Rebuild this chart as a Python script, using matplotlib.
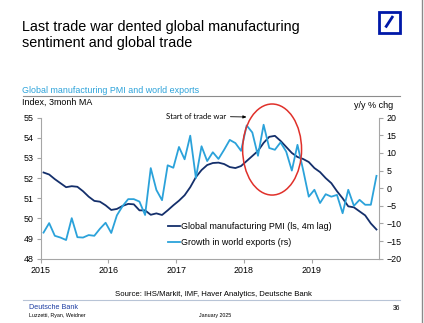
import matplotlib
matplotlib.use("Agg")
import matplotlib.pyplot as plt
from matplotlib.patches import Ellipse, Rectangle
from matplotlib.lines import Line2D
import numpy as np

# ---------------- data ----------------
start_year = 2015
n_months = 60  # Jan 2015 .. Dec 2019

pmi = [52.28, 52.18, 51.95, 51.75, 51.55, 51.60, 51.57, 51.35, 51.08, 50.87,
       50.83, 50.65, 50.42, 50.47, 50.62, 50.72, 50.70, 50.40, 50.40, 50.18,
       50.25, 50.17, 50.40, 50.65, 50.88, 51.15, 51.55, 52.05, 52.40, 52.65,
       52.75, 52.77, 52.70, 52.55, 52.50, 52.60, 52.85, 53.10, 53.35, 53.75,
       54.05, 54.10, 53.85, 53.55, 53.25, 53.05, 52.95, 52.80, 52.50, 52.30,
       52.00, 51.75, 51.35, 51.00, 50.60, 50.55, 50.35, 50.15, 49.75, 49.45]

exports = [-12.6, -9.9, -13.5, -14.0, -14.7, -8.5, -13.9, -14.0, -13.3, -13.5,
           -11.5, -9.8, -12.7, -7.7, -5.1, -3.1, -3.1, -3.8, -7.6, 5.7,
           -0.5, -3.4, 6.5, 5.8, 11.7, 8.2, 14.9, 2.9, 11.9, 7.7,
           10.2, 8.3, 10.9, 13.7, 12.8, 10.6, 17.8, 15.8, 9.2, 18.0,
           11.4, 10.9, 13.0, 10.4, 5.0, 12.3, 5.2, -2.4, -0.45, -4.2,
           -1.7, -2.4, -1.9, -7.1, -0.45, -5.0, -3.3, -4.7, -4.7, 3.5]

year_ticks = [2015, 2016, 2017, 2018, 2019]
left_ticks = [48, 49, 50, 51, 52, 53, 54, 55]
right_ticks = [-20, -15, -10, -5, 0, 5, 10, 15, 20]

label_pmi = "Global manufacturing PMI (ls, 4m lag)"
label_exp = "Growth in world exports (rs)"

# ---------------- style ----------------
FONT = "Liberation Sans"
plt.rcParams["font.family"] = [FONT, "DejaVu Sans"]
DARK = "#142f6b"
LIGHT = "#2ba2da"
GRID = "#a6a6a6"

W, H = 424, 323
fig = plt.figure(figsize=(W / 100, H / 100), dpi=100)
fig.patch.set_facecolor("white")

def fx(px):
    return px / W

def fy(py):
    return 1 - py / H

x = start_year + (np.arange(n_months) + 0.5) / 12.0

ax = fig.add_axes([fx(40.7), fy(258.7), fx(379.3) - fx(40.7), fy(117.7) - fy(258.7)])
ax2 = ax.twinx()

ax.plot(x, pmi, color=DARK, lw=1.3, label=label_pmi, solid_joinstyle="round")
ax2.plot(x, exports, color=LIGHT, lw=1.3, label=label_exp, solid_joinstyle="round")

ax.set_xlim(2015, 2020)
ax.set_ylim(48, 55)
ax2.set_ylim(-20, 20)
ax.set_xticks(year_ticks)
ax.set_xticklabels([str(y) for y in year_ticks])
ax.set_yticks(left_ticks)
ax2.set_yticks(right_ticks)

for a in (ax, ax2):
    for s in a.spines.values():
        s.set_visible(False)
    a.tick_params(colors=GRID, labelcolor="black", labelsize=6.4, width=0.8, length=3)
    a.set_facecolor("none")

ax.spines["left"].set_visible(True)
ax.spines["bottom"].set_visible(True)
ax2.spines["right"].set_visible(True)
for s in (ax.spines["left"], ax.spines["bottom"], ax2.spines["right"]):
    s.set_color(GRID)
    s.set_linewidth(0.8)
ax.tick_params(axis="x", pad=2)
ax.tick_params(axis="y", pad=2)
ax2.tick_params(axis="y", pad=2)

# ellipse around trade war start
ell = Ellipse((2018.417, 53.42), 0.87, 4.52, transform=ax.transData,
              fill=False, edgecolor="#e0302a", lw=1.1, zorder=5, clip_on=False)
ax2.add_patch(ell)

ax2.annotate("Start of trade war", xy=(2018.04, 20.2), xytext=(2017.74, 20.45),
             ha="right", va="center", fontsize=5.6, family=["Lato", "DejaVu Sans"],
             arrowprops=dict(arrowstyle="-|>,head_length=0.35,head_width=0.15",
                             color="black", lw=0.6, shrinkA=1, shrinkB=0),
             annotation_clip=False)

# legend
handles = [Line2D([], [], color=DARK, lw=1.3), Line2D([], [], color=LIGHT, lw=1.3)]
leg = ax2.legend(handles, [label_pmi, label_exp], loc="upper left",
                 frameon=False, fontsize=6.4, handlelength=1.4, handletextpad=0.1,
                 labelspacing=0.75, borderaxespad=0, borderpad=0)
leg.set_bbox_to_anchor((fx(168), fy(222)), transform=fig.transFigure)

# ---------------- texts ----------------
fig.text(fx(21.7), fy(27.5), "Last trade war dented global manufacturing",
         fontsize=10.4, va="center", ha="left")
fig.text(fx(21.7), fy(43), "sentiment and global trade",
         fontsize=10.4, va="center", ha="left")
fig.text(fx(22.5), fy(90.5), "Global manufacturing PMI and world exports",
         fontsize=6.4, color="#2ba2da", va="center", ha="left")
fig.add_artist(Line2D([fx(22.5), fx(400)], [fy(96), fy(96)], color="#8c8c8c", lw=0.8))
fig.text(fx(22.5), fy(102), "Index, 3monh MA", fontsize=6.4, va="center", ha="left")
fig.text(fx(393.5), fy(106), "y/y % chg", fontsize=6.5, va="center", ha="right")

fig.text(fx(213.5), fy(294.3), "Source: IHS/Markit, IMF, Haver Analytics, Deutsche Bank",
         fontsize=5.6, va="center", ha="center")
fig.add_artist(Line2D([fx(22.5), fx(400)], [fy(300.3), fy(300.3)], color="#b8c4d6", lw=0.8))
fig.text(fx(29.3), fy(307.5), "Deutsche Bank", fontsize=5.2, color="#1f3fa3",
         va="center", ha="left")
fig.text(fx(29.3), fy(316), "Luzzetti, Ryan, Weidner", fontsize=3.8, va="center", ha="left")
fig.text(fx(215), fy(316), "January 2025", fontsize=3.8, va="center", ha="center")
fig.text(fx(400), fy(309), "36", fontsize=4.8, va="center", ha="right")

# logo
logo = Rectangle((fx(378.5), fy(32.5)), fx(21), 21 / H, transform=fig.transFigure,
                 fill=False, edgecolor="#0018a8", lw=2.0)
fig.add_artist(logo)
fig.add_artist(Line2D([fx(385.5), fx(393)], [fy(27.5), fy(16)], color="#0018a8", lw=2.0,
                      solid_capstyle="butt"))

# right page border
fig.add_artist(Line2D([fx(421.5), fx(421.5)], [0, 1], color="#8a8a8a", lw=1.0))

fig.savefig("out.png", dpi=100)
